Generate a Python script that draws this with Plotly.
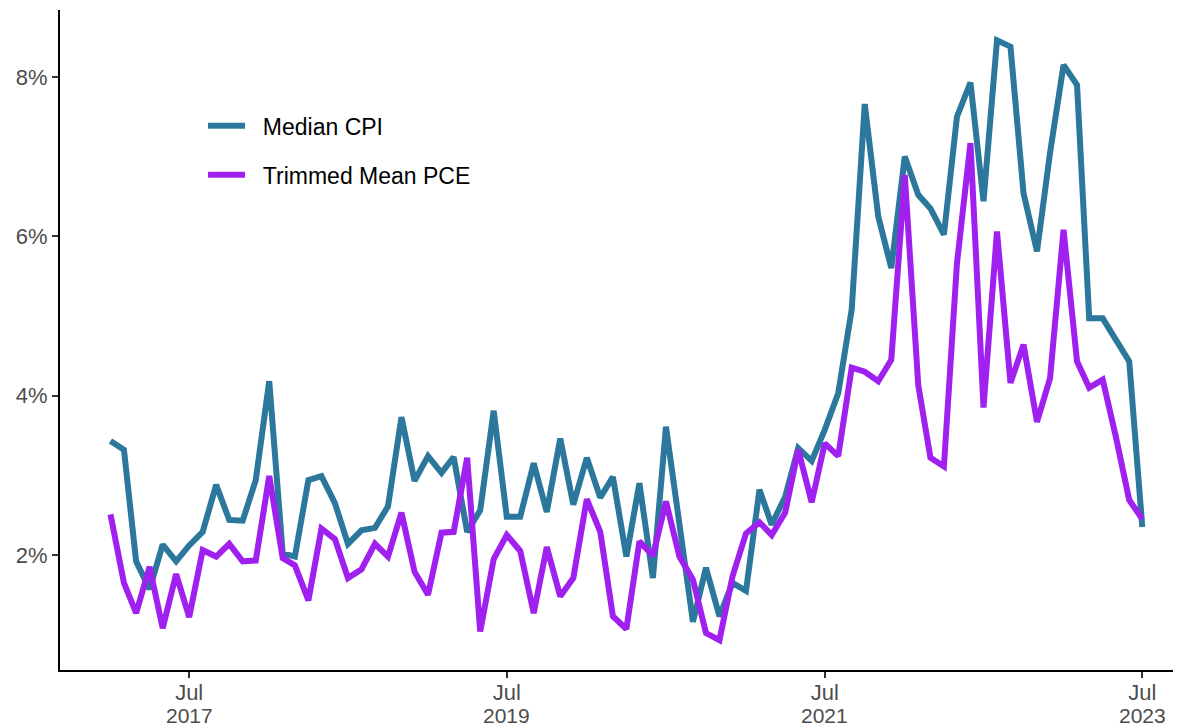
import pandas as pd
import plotly.graph_objects as go

dates = pd.date_range("2017-01-01", periods=79, freq="MS")

median_cpi = [
    3.43, 3.32, 1.92, 1.57, 2.13, 1.92, 2.12, 2.29, 2.88, 2.44, 2.43, 2.94, 4.18,
    2.02, 1.98, 2.94, 2.99, 2.65, 2.14, 2.31, 2.34, 2.61, 3.73, 2.93, 3.24, 3.03,
    3.23, 2.29, 2.56, 3.81, 2.48, 2.48, 3.15, 2.54, 3.46, 2.63, 3.22, 2.72, 2.98,
    1.98, 2.90, 1.71, 3.61, 2.39, 1.16, 1.84, 1.23, 1.65, 1.55, 2.82, 2.38, 2.73,
    3.34, 3.18, 3.57, 4.03, 5.08, 7.66, 6.25, 5.60, 7.00, 6.52, 6.35, 6.02, 7.50,
    7.93, 6.44, 8.46, 8.38, 6.54, 5.81, 7.05, 8.15, 7.90, 4.97, 4.97, 4.70, 4.43,
    2.35,
]

trimmed_pce = [
    2.51, 1.65, 1.27, 1.85, 1.08, 1.76, 1.22, 2.06, 1.98, 2.14, 1.92, 1.93, 2.99,
    1.96, 1.87, 1.43, 2.33, 2.20, 1.71, 1.82, 2.14, 1.98, 2.53, 1.79, 1.50, 2.28,
    2.29, 3.22, 1.04, 1.95, 2.25, 2.05, 1.27, 2.10, 1.48, 1.71, 2.70, 2.29, 1.23,
    1.07, 2.17, 1.99, 2.67, 1.98, 1.69, 1.02, 0.93, 1.73, 2.27, 2.41, 2.25, 2.53,
    3.32, 2.66, 3.40, 3.24, 4.35, 4.30, 4.18, 4.45, 6.77, 4.13, 3.22, 3.11, 5.66,
    7.17, 3.85, 6.06, 4.16, 4.64, 3.67, 4.22, 6.08, 4.43, 4.10, 4.20, 3.49, 2.69,
    2.45,
]

series_names = ["Median CPI", "Trimmed Mean PCE"]
y_ticks = [2, 4, 6, 8]
y_tick_labels = ["2%", "4%", "6%", "8%"]
x_ticks = ["2017-07-01", "2019-07-01", "2021-07-01", "2023-07-01"]
x_month_labels = ["Jul", "Jul", "Jul", "Jul"]
x_year_labels = ["2017", "2019", "2021", "2023"]

font_family = "Liberation Sans, Arial, sans-serif"
tick_color = "#4D4D4D"
tick_size = 22
pad = "\u00a0\u00a0"  # gap between legend key and label

fig = go.Figure()
fig.add_trace(go.Scatter(
    x=dates, y=median_cpi, mode="lines", name=pad + series_names[0],
    legendgroup="a",
    line=dict(color="#2C789C", width=6),
))
fig.add_trace(go.Scatter(
    x=dates, y=trimmed_pce, mode="lines", name=pad + series_names[1],
    legendgroup="b",
    line=dict(color="#A020F0", width=6),
))

# year labels as a second row under the month tick labels
for xv, yl in zip(x_ticks, x_year_labels):
    fig.add_annotation(
        x=xv, xref="x", y=0, yref="paper", yanchor="top",
        yshift=-33, text=yl, showarrow=False, borderpad=0,
        font=dict(family=font_family, size=21, color=tick_color),
    )

fig.update_layout(
    width=1173, height=719,
    margin=dict(l=52, r=0, t=2, b=57),
    plot_bgcolor="white", paper_bgcolor="white",
    font=dict(family=font_family, size=tick_size, color=tick_color),
    showlegend=True,
    legend=dict(
        x=0.1276, y=0.857, xanchor="left", yanchor="top",
        bgcolor="rgba(0,0,0,0)",
        font=dict(family=font_family, size=23, color="black"),
        tracegroupgap=16,
        itemwidth=37,
    ),
    xaxis=dict(
        range=["2016-09-07", "2023-09-28"],
        tickvals=x_ticks, ticktext=x_month_labels,
        showgrid=False, zeroline=False,
        showline=True, linecolor="black", linewidth=2,
        ticks="outside", ticklen=6, tickwidth=2, tickcolor="#333333",
        ticklabelstandoff=-4,
        tickfont=dict(size=tick_size, color=tick_color),
    ),
    yaxis=dict(
        range=[0.556, 8.84],
        tickvals=y_ticks, ticktext=y_tick_labels,
        showgrid=False, zeroline=False,
        showline=True, linecolor="black", linewidth=2,
        ticks="outside", ticklen=6, tickwidth=2, tickcolor="#333333",
        tickfont=dict(size=tick_size, color=tick_color),
    ),
)

fig.write_html("out.html")
